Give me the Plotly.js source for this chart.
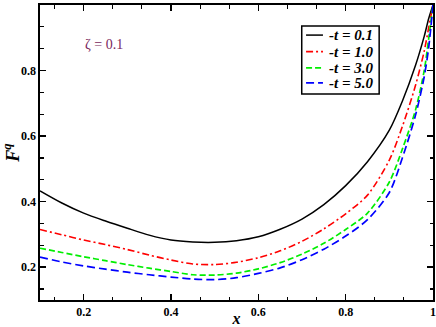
<!DOCTYPE html>
<html>
<head>
<meta charset="utf-8">
<script src="https://cdn.plot.ly/plotly-3.0.1.min.js"></script>
<style>html,body{margin:0;padding:0;background:#fff;}#chart{width:436px;height:327px;}</style>
</head>
<body>
<div id="chart"></div>
<script>
const xVals = [0.1, 0.15, 0.2, 0.25, 0.3, 0.35, 0.4, 0.45, 0.5, 0.55, 0.6, 0.65, 0.7, 0.75, 0.8, 0.85, 0.9, 0.93, 0.96, 0.98, 0.99, 1.0];
const fT01 = [0.433, 0.396, 0.365, 0.341, 0.319, 0.298, 0.283, 0.277, 0.276, 0.281, 0.293, 0.316, 0.347, 0.391, 0.449, 0.522, 0.618, 0.707, 0.816, 0.905, 0.958, 1.0];
const fT10 = [0.315, 0.299, 0.283, 0.269, 0.254, 0.237, 0.222, 0.210, 0.208, 0.215, 0.229, 0.250, 0.279, 0.317, 0.363, 0.420, 0.527, 0.630, 0.755, 0.860, 0.930, 1.0];
const fT30 = [0.258, 0.245, 0.232, 0.220, 0.208, 0.197, 0.187, 0.177, 0.176, 0.182, 0.195, 0.214, 0.240, 0.273, 0.315, 0.365, 0.460, 0.561, 0.680, 0.801, 0.896, 1.0];
const fT50 = [0.231, 0.216, 0.204, 0.194, 0.185, 0.177, 0.170, 0.164, 0.162, 0.168, 0.181, 0.198, 0.223, 0.255, 0.295, 0.345, 0.428, 0.534, 0.664, 0.782, 0.869, 1.0];
const seriesNames = ['-t = 0.1', '-t = 1.0', '-t = 3.0', '-t = 5.0'];
const tickVals = [0.2, 0.4, 0.6, 0.8, 1];
const tickText = ['0.2', '0.4', '0.6', '0.8', '1'];

const serif = 'Liberation Serif, Times New Roman, serif';
const styles = [
  {color: '#000000', dash: 'solid', width: 1.5},
  {color: '#ff0000', dash: '7px,3px,2px,3px', width: 1.6},
  {color: '#00ee00', dash: '6px,3px', width: 1.7},
  {color: '#0000ff', dash: '8px,4px', width: 1.7}
];
const ys = [fT01, fT10, fT30, fT50];
const traces = ys.map((y, i) => ({
  x: xVals, y: y, type: 'scatter', mode: 'lines', name: seriesNames[i], showlegend: false,
  line: {color: styles[i].color, dash: styles[i].dash, width: styles[i].width, shape: 'spline', smoothing: 0.8}
}));

const axisCommon = {
  showgrid: false, zeroline: false, showline: true, linecolor: '#000', linewidth: 1.6,
  mirror: 'ticks', ticks: 'inside', ticklen: 6, tickwidth: 1.5, tickcolor: '#000',
  tickmode: 'array', tickvals: tickVals, ticktext: tickText,
  tickfont: {family: serif, size: 12, color: '#000', weight: 'bold'},
  minor: {ticks: 'inside', ticklen: 3.5, tickwidth: 1.2, tickcolor: '#000', tickmode: 'linear', tick0: 0.2, dtick: 0.2/3}
};

// manual legend (layout decorations)
const legX0 = 0.666, legX1 = 0.863, legY0 = 0.698, legY1 = 0.929;
const rowY = [0.898, 0.842, 0.787, 0.736];
const shapes = [{type: 'rect', xref: 'paper', yref: 'paper', x0: legX0, x1: legX1, y0: legY0, y1: legY1,
  line: {color: '#000', width: 1.5}, fillcolor: '#fff', layer: 'above'}];
const annotations = [];
seriesNames.forEach((n, i) => {
  shapes.push({type: 'line', xref: 'paper', yref: 'paper', x0: 0.677, x1: 0.72, y0: rowY[i], y1: rowY[i],
    line: {color: styles[i].color, dash: styles[i].dash, width: styles[i].width}, layer: 'above'});
  annotations.push({xref: 'paper', yref: 'paper', x: 0.73, y: rowY[i], xanchor: 'left', yanchor: 'middle',
    text: n, showarrow: false, font: {family: serif, size: 15, color: '#000', weight: 'bold', style: 'italic'}});
});
annotations.push({x: 0.247, y: 0.881, xref: 'x', yref: 'y', text: 'ζ = 0.1', showarrow: false,
  xanchor: 'center', yanchor: 'middle', font: {family: serif, size: 14, color: '#7a1f5c'}});

const layout = {
  width: 436, height: 327,
  margin: {l: 40, r: 3, t: 5, b: 27},
  paper_bgcolor: '#fff', plot_bgcolor: '#fff',
  showlegend: false,
  xaxis: Object.assign({}, axisCommon, {range: [0.1, 1],
    title: {text: 'x', font: {family: serif, size: 16, color: '#000', weight: 'bold', style: 'italic'}, standoff: 1}}),
  yaxis: Object.assign({}, axisCommon, {range: [0.1, 1],
    title: {text: 'F<sup>q</sup>', font: {family: serif, size: 18, color: '#000', weight: 'bold', style: 'italic'}, standoff: 2}}),
  shapes: shapes,
  annotations: annotations
};

Plotly.newPlot('chart', traces, layout, {displayModeBar: false, staticPlot: true});
</script>
</body>
</html>
